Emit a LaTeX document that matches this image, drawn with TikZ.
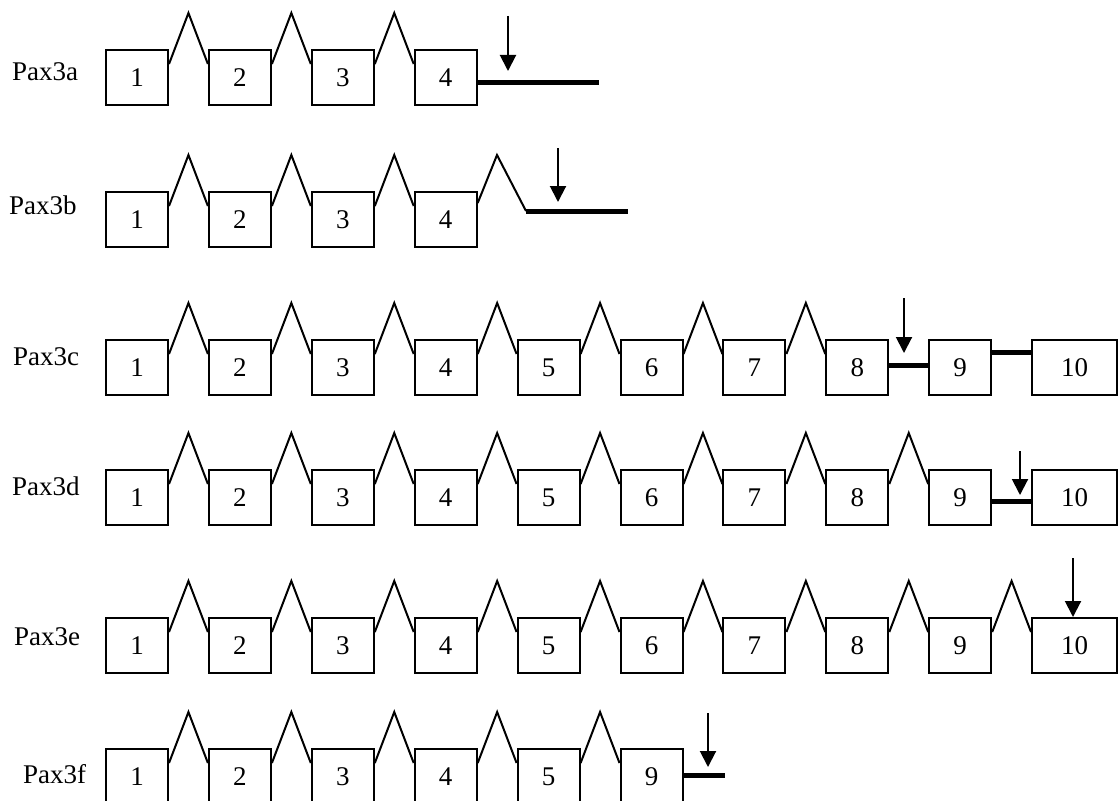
\documentclass[tikz,border=0pt]{standalone}
\usepackage{fontspec}
\setmainfont{Liberation Serif}
\usetikzlibrary{calc,arrows.meta}
\tikzset{
  exon/.style={draw, line width=2pt, minimum width=62pt, minimum height=55pt,
    inner sep=0pt, anchor=north west, font=\fontsize{27}{30}\selectfont},
  widebox/.style={minimum width=85pt},
  intron/.style={line width=2pt, line join=miter},
  utr/.style={line width=5pt},
  site/.style={line width=2pt, -{Triangle[length=16pt,width=16pt]}},
  lbl/.style={anchor=base west, inner sep=0pt, font=\fontsize{27}{30}\selectfont},
}
\begin{document}
\begin{tikzpicture}[x=1pt,y=-1pt]
\useasboundingbox (0,0) rectangle (1118,800);
\clip (0,0) rectangle (1118,800);

% ---------- Pax3a ----------
\node[lbl] (la) at (12,81) {Pax3a};
\foreach \i in {1,...,4}
  \node[exon] (a\i) at ({105+102.9*(\i-1)},49) {\i};
\foreach \i [count=\j from 2] in {1,2,3}
  \draw[intron] ([yshift=-15pt]a\i.north east)
    -- ($(a\i.north east)!.5!(a\j.north west)+(0pt,36pt)$)
    -- ([yshift=-15pt]a\j.north west);
\coordinate (aend) at (599,82);
\draw[utr] (a4.east |- aend) -- (aend);
\coordinate (aA0) at (508,16);
\coordinate (aA1) at (508,71);
\draw[site] (aA0) -- (aA1);

% ---------- Pax3b ----------
\node[lbl] (lb) at (9,214) {Pax3b};
\foreach \i in {1,...,4}
  \node[exon] (b\i) at ({105+102.9*(\i-1)},191) {\i};
\foreach \i [count=\j from 2] in {1,2,3}
  \draw[intron] ([yshift=-15pt]b\i.north east)
    -- ($(b\i.north east)!.5!(b\j.north west)+(0pt,36pt)$)
    -- ([yshift=-15pt]b\j.north west);
\coordinate (bpk) at (497,155);
\coordinate (bj) at (526,211);
\coordinate (bend) at (628,211);
\draw[intron] ([yshift=-12pt]b4.north east) -- (bpk) -- (bj);
\draw[utr] (bj) -- (bend);
\coordinate (bA0) at (558,148);
\coordinate (bA1) at (558,202);
\draw[site] (bA0) -- (bA1);

% ---------- Pax3c ----------
\node[lbl] (lc) at (13,365) {Pax3c};
\foreach \i in {1,...,9}
  \node[exon] (c\i) at ({105+102.9*(\i-1)},339) {\i};
\node[exon,widebox] (c10) at (1031,339) {10};
\foreach \i [count=\j from 2] in {1,...,7}
  \draw[intron] ([yshift=-15pt]c\i.north east)
    -- ($(c\i.north east)!.5!(c\j.north west)+(0pt,36pt)$)
    -- ([yshift=-15pt]c\j.north west);
\draw[utr] ([yshift=-26pt]c8.north east) -- ([yshift=-26pt]c9.north west);
\draw[utr] ([yshift=-13pt]c9.north east) -- ([yshift=-13pt]c10.north west);
\coordinate (cA0) at (904,298);
\coordinate (cA1) at (904,353);
\draw[site] (cA0) -- (cA1);

% ---------- Pax3d ----------
\node[lbl] (ld) at (12,495) {Pax3d};
\foreach \i in {1,...,9}
  \node[exon] (d\i) at ({105+102.9*(\i-1)},469) {\i};
\node[exon,widebox] (d10) at (1031,469) {10};
\foreach \i [count=\j from 2] in {1,...,8}
  \draw[intron] ([yshift=-15pt]d\i.north east)
    -- ($(d\i.north east)!.5!(d\j.north west)+(0pt,36pt)$)
    -- ([yshift=-15pt]d\j.north west);
\draw[utr] ([yshift=-32pt]d9.north east) -- ([yshift=-32pt]d10.north west);
\coordinate (dA0) at (1020,451);
\coordinate (dA1) at (1020,495);
\draw[site] (dA0) -- (dA1);

% ---------- Pax3e ----------
\node[lbl] (le) at (14,645) {Pax3e};
\foreach \i in {1,...,9}
  \node[exon] (e\i) at ({105+102.9*(\i-1)},617) {\i};
\node[exon,widebox] (e10) at (1031,617) {10};
\foreach \i [count=\j from 2] in {1,...,9}
  \draw[intron] ([yshift=-15pt]e\i.north east)
    -- ($(e\i.north east)!.5!(e\j.north west)+(0pt,36pt)$)
    -- ([yshift=-15pt]e\j.north west);
\coordinate (eA0) at (1073,558);
\draw[site] (eA0) -- (eA0 |- e10.north);

% ---------- Pax3f ----------
\node[lbl] (lf) at (23,783) {Pax3f};
\foreach \i/\t in {1/1,2/2,3/3,4/4,5/5,6/9}
  \node[exon] (f\i) at ({105+102.9*(\i-1)},748) {\t};
\foreach \i [count=\j from 2] in {1,...,5}
  \draw[intron] ([yshift=-15pt]f\i.north east)
    -- ($(f\i.north east)!.5!(f\j.north west)+(0pt,36pt)$)
    -- ([yshift=-15pt]f\j.north west);
\coordinate (fend) at (725,775);
\draw[utr] (f6.east |- fend) -- (fend);
\coordinate (fA0) at (708,713);
\coordinate (fA1) at (708,767);
\draw[site] (fA0) -- (fA1);
\end{tikzpicture}
\end{document}
